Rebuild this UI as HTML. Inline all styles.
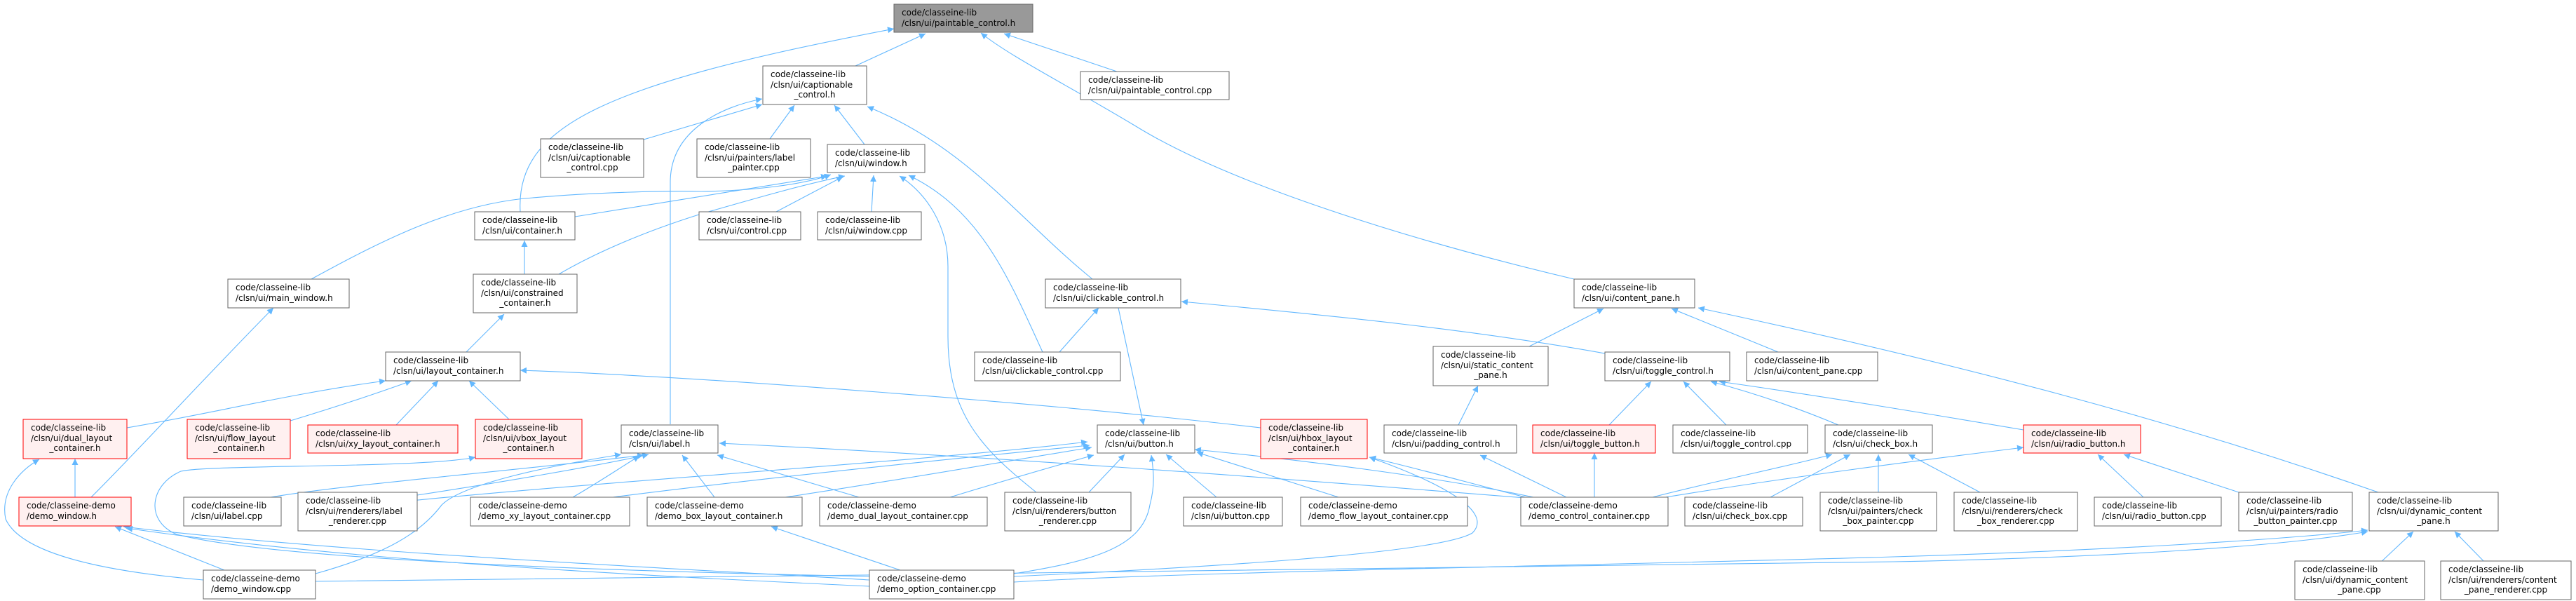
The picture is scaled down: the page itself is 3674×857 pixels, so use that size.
<!DOCTYPE html>
<html><head><meta charset="utf-8"><style>
html,body{margin:0;padding:0;background:#fff;}
svg{display:block;}
text{font-family:"DejaVu Sans","Liberation Sans",sans-serif;font-size:12px;fill:#000;}
.n{fill:#fff;stroke:#666;stroke-width:1;}
.r{fill:#fff0f0;stroke:#ff0000;stroke-width:1;}
.g{fill:#999;stroke:#666;stroke-width:1;}
.e{fill:none;stroke:#63b8ff;stroke-width:1.1;marker-end:url(#a);}
</style></head><body>
<svg width="3674" height="857" viewBox="0 0 3674 857" xmlns="http://www.w3.org/2000/svg">
<defs><marker id="a" viewBox="0 0 10 10" refX="10" refY="5" markerWidth="9" markerHeight="9" markerUnits="userSpaceOnUse" orient="auto"><path d="M0,0 L10,5 L0,10 z" fill="#63b8ff"/></marker></defs>
<g>
<!-- edges -->
<path class="e" d="M742,302 C735,180 860,120 1275,41"/>
<path class="e" d="M1220,94 L1320,48"/>
<path class="e" d="M1593,102 L1432,48"/>
<path class="e" d="M2245,398 C2000,340 1750,260 1620,180 C1520,120 1440,80 1399,47"/>
<path class="e" d="M918,199 L1087,149"/>
<path class="e" d="M956,605 L956,260 C956,185 1030,152 1087,141"/>
<path class="e" d="M1098,198 L1133,150"/>
<path class="e" d="M1233,206 L1190,150"/>
<path class="e" d="M1558,398 C1450,310 1380,210 1237,152"/>
<path class="e" d="M820,309 L1180,251"/>
<path class="e" d="M444,398 C550,340 650,290 760,282 C850,274 950,272 1000,273 C1080,272 1150,262 1185,249"/>
<path class="e" d="M797,391 C850,360 920,330 1000,305 C1080,282 1150,262 1205,251"/>
<path class="e" d="M1107,302 L1202,252"/>
<path class="e" d="M1243,302 L1246,250"/>
<path class="e" d="M1487,502 C1440,400 1400,300 1296,250"/>
<path class="e" d="M1478,702 C1400,640 1352,590 1352,480 L1352,380 C1352,320 1320,275 1283,251"/>
<path class="e" d="M748,391 L748,343"/>
<path class="e" d="M665,502 L719,448"/>
<path class="e" d="M130,709 C180,660 300,530 390,439"/>
<path class="e" d="M181,610 C300,590 420,560 550,543"/>
<path class="e" d="M414,600 C480,580 540,560 587,543"/>
<path class="e" d="M565,606 L625,543"/>
<path class="e" d="M726,598 L669,543"/>
<path class="e" d="M1798,610 C1500,575 1000,537 742,528"/>
<path class="e" d="M107,709 L107,654"/>
<path class="e" d="M290,827 C150,815 30,790 8,740 C0,700 30,670 56,655"/>
<path class="e" d="M320,813 L164,751"/>
<path class="e" d="M1240,827 C1000,812 500,790 176,751"/>
<path class="e" d="M1240,836 C900,820 500,800 180,753"/>
<path class="e" d="M386,709 C500,690 700,675 918,649"/>
<path class="e" d="M595,706 C700,690 850,665 925,648"/>
<path class="e" d="M450,818 C550,790 600,760 630,720 C660,690 780,665 886,648"/>
<path class="e" d="M1019,709 L973,649"/>
<path class="e" d="M1225,709 L1023,649"/>
<path class="e" d="M2175,710 C1800,680 1400,650 1026,632"/>
<path class="e" d="M1595,439 L1631,606"/>
<path class="e" d="M817,709 C850,690 880,670 912,650"/>
<path class="e" d="M874,709 C1100,680 1400,650 1554,635"/>
<path class="e" d="M1120,709 C1250,690 1450,655 1557,638"/>
<path class="e" d="M1355,709 C1450,680 1520,660 1560,649"/>
<path class="e" d="M1553,702 L1604,648"/>
<path class="e" d="M1735,709 L1663,648"/>
<path class="e" d="M1446,818 C1560,800 1630,780 1640,720 C1648,690 1645,670 1642,649"/>
<path class="e" d="M1909,709 C1850,690 1770,665 1707,645"/>
<path class="e" d="M2187,709 C2050,680 1850,655 1704,641"/>
<path class="e" d="M530,720 C800,690 1300,660 1551,630"/>
<path class="e" d="M2187,712 C2100,690 2030,670 1953,652"/>
<path class="e" d="M1446,822 C1700,810 2050,790 2100,760 C2130,730 2060,690 1953,652"/>
<path class="e" d="M1240,822 C900,815 400,800 252,762 C205,742 215,690 258,672 C300,662 600,668 678,652"/>
<path class="e" d="M2234,709 L2111,649"/>
<path class="e" d="M2080,606 L2108,550"/>
<path class="e" d="M2181,494 L2287,440"/>
<path class="e" d="M2536,502 L2384,440"/>
<path class="e" d="M3392,702 C3100,600 2800,520 2422,439"/>
<path class="e" d="M2295,606 L2355,544"/>
<path class="e" d="M2462,606 L2401,544"/>
<path class="e" d="M2622,606 C2560,580 2500,560 2440,544"/>
<path class="e" d="M2886,613 C2750,590 2600,565 2452,544"/>
<path class="e" d="M2289,504 C2100,470 1900,450 1685,430"/>
<path class="e" d="M1511,502 L1567,439"/>
<path class="e" d="M2274,709 L2274,646"/>
<path class="e" d="M2357,709 C2450,685 2550,665 2613,648"/>
<path class="e" d="M2525,709 L2639,648"/>
<path class="e" d="M2679,702 L2679,648"/>
<path class="e" d="M2824,702 L2722,648"/>
<path class="e" d="M2357,712 C2550,680 2750,655 2886,638"/>
<path class="e" d="M3057,709 L2992,648"/>
<path class="e" d="M3193,702 L3029,648"/>
<path class="e" d="M3392,805 L3442,758"/>
<path class="e" d="M3547,805 L3501,758"/>
<path class="e" d="M450,829 C1200,820 2200,810 2700,801 C3000,795 3250,780 3377,758"/>
<path class="e" d="M1446,830 C1700,815 2300,806 2700,794 C3000,785 3250,770 3377,756"/>
<path class="e" d="M1284,813 L1100,751"/>
</g>
<g>
<!-- nodes -->
<rect class="g" x="1275" y="6" width="198" height="40"/><text x="1286" y="22">code/classeine-lib</text><text x="1286" y="37">/clsn/ui/paintable_control.h</text>
<rect class="n" x="1088" y="94" width="148" height="55"/><text x="1099" y="110">code/classeine-lib</text><text x="1099" y="125">/clsn/ui/captionable</text><text x="1162" y="139" text-anchor="middle">_control.h</text>
<rect class="n" x="1541" y="102" width="212" height="40"/><text x="1552" y="118">code/classeine-lib</text><text x="1552" y="133">/clsn/ui/paintable_control.cpp</text>
<rect class="n" x="771" y="198" width="147" height="55"/><text x="782" y="214">code/classeine-lib</text><text x="782" y="229">/clsn/ui/captionable</text><text x="845" y="243" text-anchor="middle">_control.cpp</text>
<rect class="n" x="994" y="198" width="162" height="55"/><text x="1005" y="214">code/classeine-lib</text><text x="1005" y="229">/clsn/ui/painters/label</text><text x="1075" y="243" text-anchor="middle">_painter.cpp</text>
<rect class="n" x="1180" y="206" width="139" height="40"/><text x="1191" y="222">code/classeine-lib</text><text x="1191" y="237">/clsn/ui/window.h</text>
<rect class="n" x="677" y="302" width="143" height="40"/><text x="688" y="318">code/classeine-lib</text><text x="688" y="333">/clsn/ui/container.h</text>
<rect class="n" x="997" y="302" width="145" height="40"/><text x="1008" y="318">code/classeine-lib</text><text x="1008" y="333">/clsn/ui/control.cpp</text>
<rect class="n" x="1166" y="302" width="148" height="40"/><text x="1177" y="318">code/classeine-lib</text><text x="1177" y="333">/clsn/ui/window.cpp</text>
<rect class="n" x="325" y="398" width="173" height="41"/><text x="336" y="414">code/classeine-lib</text><text x="336" y="429">/clsn/ui/main_window.h</text>
<rect class="n" x="675" y="391" width="148" height="55"/><text x="686" y="407">code/classeine-lib</text><text x="686" y="422">/clsn/ui/constrained</text><text x="749" y="436" text-anchor="middle">_container.h</text>
<rect class="n" x="1491" y="398" width="193" height="41"/><text x="1502" y="414">code/classeine-lib</text><text x="1502" y="429">/clsn/ui/clickable_control.h</text>
<rect class="n" x="2245" y="398" width="172" height="41"/><text x="2256" y="414">code/classeine-lib</text><text x="2256" y="429">/clsn/ui/content_pane.h</text>
<rect class="n" x="1390" y="502" width="208" height="41"/><text x="1401" y="518">code/classeine-lib</text><text x="1401" y="533">/clsn/ui/clickable_control.cpp</text>
<rect class="n" x="2044" y="494" width="164" height="56"/><text x="2055" y="510">code/classeine-lib</text><text x="2055" y="525">/clsn/ui/static_content</text><text x="2126" y="539" text-anchor="middle">_pane.h</text>
<rect class="n" x="2289" y="502" width="178" height="41"/><text x="2300" y="518">code/classeine-lib</text><text x="2300" y="533">/clsn/ui/toggle_control.h</text>
<rect class="n" x="2491" y="502" width="187" height="41"/><text x="2502" y="518">code/classeine-lib</text><text x="2502" y="533">/clsn/ui/content_pane.cpp</text>
<rect class="n" x="550" y="502" width="192" height="41"/><text x="561" y="518">code/classeine-lib</text><text x="561" y="533">/clsn/ui/layout_container.h</text>
<rect class="r" x="33" y="598" width="148" height="56"/><text x="44" y="614">code/classeine-lib</text><text x="44" y="629">/clsn/ui/dual_layout</text><text x="107" y="643" text-anchor="middle">_container.h</text>
<rect class="r" x="267" y="598" width="147" height="56"/><text x="278" y="614">code/classeine-lib</text><text x="278" y="629">/clsn/ui/flow_layout</text><text x="341" y="643" text-anchor="middle">_container.h</text>
<rect class="r" x="439" y="606" width="214" height="40"/><text x="450" y="622">code/classeine-lib</text><text x="450" y="637">/clsn/ui/xy_layout_container.h</text>
<rect class="r" x="678" y="598" width="152" height="56"/><text x="689" y="614">code/classeine-lib</text><text x="689" y="629">/clsn/ui/vbox_layout</text><text x="754" y="643" text-anchor="middle">_container.h</text>
<rect class="n" x="886" y="606" width="138" height="40"/><text x="897" y="622">code/classeine-lib</text><text x="897" y="637">/clsn/ui/label.h</text>
<rect class="n" x="1565" y="606" width="139" height="40"/><text x="1576" y="622">code/classeine-lib</text><text x="1576" y="637">/clsn/ui/button.h</text>
<rect class="r" x="1798" y="598" width="152" height="56"/><text x="1809" y="614">code/classeine-lib</text><text x="1809" y="629">/clsn/ui/hbox_layout</text><text x="1874" y="643" text-anchor="middle">_container.h</text>
<rect class="n" x="1974" y="606" width="189" height="40"/><text x="1985" y="622">code/classeine-lib</text><text x="1985" y="637">/clsn/ui/padding_control.h</text>
<rect class="r" x="2186" y="606" width="175" height="40"/><text x="2197" y="622">code/classeine-lib</text><text x="2197" y="637">/clsn/ui/toggle_button.h</text>
<rect class="n" x="2386" y="606" width="192" height="40"/><text x="2397" y="622">code/classeine-lib</text><text x="2397" y="637">/clsn/ui/toggle_control.cpp</text>
<rect class="n" x="2603" y="606" width="153" height="40"/><text x="2614" y="622">code/classeine-lib</text><text x="2614" y="637">/clsn/ui/check_box.h</text>
<rect class="r" x="2886" y="606" width="167" height="40"/><text x="2897" y="622">code/classeine-lib</text><text x="2897" y="637">/clsn/ui/radio_button.h</text>
<rect class="r" x="27" y="709" width="160" height="41"/><text x="38" y="725">code/classeine-demo</text><text x="38" y="740">/demo_window.h</text>
<rect class="n" x="262" y="709" width="139" height="41"/><text x="273" y="725">code/classeine-lib</text><text x="273" y="740">/clsn/ui/label.cpp</text>
<rect class="n" x="425" y="702" width="170" height="55"/><text x="436" y="718">code/classeine-lib</text><text x="436" y="733">/clsn/ui/renderers/label</text><text x="510" y="747" text-anchor="middle">_renderer.cpp</text>
<rect class="n" x="671" y="709" width="227" height="41"/><text x="682" y="725">code/classeine-demo</text><text x="682" y="740">/demo_xy_layout_container.cpp</text>
<rect class="n" x="923" y="709" width="221" height="41"/><text x="934" y="725">code/classeine-demo</text><text x="934" y="740">/demo_box_layout_container.h</text>
<rect class="n" x="1169" y="709" width="239" height="41"/><text x="1180" y="725">code/classeine-demo</text><text x="1180" y="740">/demo_dual_layout_container.cpp</text>
<rect class="n" x="1433" y="702" width="180" height="55"/><text x="1444" y="718">code/classeine-lib</text><text x="1444" y="733">/clsn/ui/renderers/button</text><text x="1523" y="747" text-anchor="middle">_renderer.cpp</text>
<rect class="n" x="1688" y="709" width="141" height="41"/><text x="1699" y="725">code/classeine-lib</text><text x="1699" y="740">/clsn/ui/button.cpp</text>
<rect class="n" x="1855" y="709" width="238" height="41"/><text x="1866" y="725">code/classeine-demo</text><text x="1866" y="740">/demo_flow_layout_container.cpp</text>
<rect class="n" x="2169" y="709" width="210" height="41"/><text x="2180" y="725">code/classeine-demo</text><text x="2180" y="740">/demo_control_container.cpp</text>
<rect class="n" x="2403" y="709" width="168" height="41"/><text x="2414" y="725">code/classeine-lib</text><text x="2414" y="740">/clsn/ui/check_box.cpp</text>
<rect class="n" x="2596" y="702" width="166" height="55"/><text x="2607" y="718">code/classeine-lib</text><text x="2607" y="733">/clsn/ui/painters/check</text><text x="2679" y="747" text-anchor="middle">_box_painter.cpp</text>
<rect class="n" x="2787" y="702" width="176" height="55"/><text x="2798" y="718">code/classeine-lib</text><text x="2798" y="733">/clsn/ui/renderers/check</text><text x="2875" y="747" text-anchor="middle">_box_renderer.cpp</text>
<rect class="n" x="2987" y="709" width="181" height="41"/><text x="2998" y="725">code/classeine-lib</text><text x="2998" y="740">/clsn/ui/radio_button.cpp</text>
<rect class="n" x="3193" y="702" width="162" height="55"/><text x="3204" y="718">code/classeine-lib</text><text x="3204" y="733">/clsn/ui/painters/radio</text><text x="3274" y="747" text-anchor="middle">_button_painter.cpp</text>
<rect class="n" x="3379" y="702" width="184" height="55"/><text x="3390" y="718">code/classeine-lib</text><text x="3390" y="733">/clsn/ui/dynamic_content</text><text x="3471" y="747" text-anchor="middle">_pane.h</text>
<rect class="n" x="290" y="813" width="160" height="41"/><text x="301" y="829">code/classeine-demo</text><text x="301" y="844">/demo_window.cpp</text>
<rect class="n" x="1240" y="813" width="206" height="41"/><text x="1251" y="829">code/classeine-demo</text><text x="1251" y="844">/demo_option_container.cpp</text>
<rect class="n" x="3273" y="800" width="185" height="55"/><text x="3284" y="816">code/classeine-lib</text><text x="3284" y="831">/clsn/ui/dynamic_content</text><text x="3365" y="845" text-anchor="middle">_pane.cpp</text>
<rect class="n" x="3481" y="800" width="186" height="55"/><text x="3492" y="816">code/classeine-lib</text><text x="3492" y="831">/clsn/ui/renderers/content</text><text x="3574" y="845" text-anchor="middle">_pane_renderer.cpp</text>
</g>
</svg>
</body></html>
